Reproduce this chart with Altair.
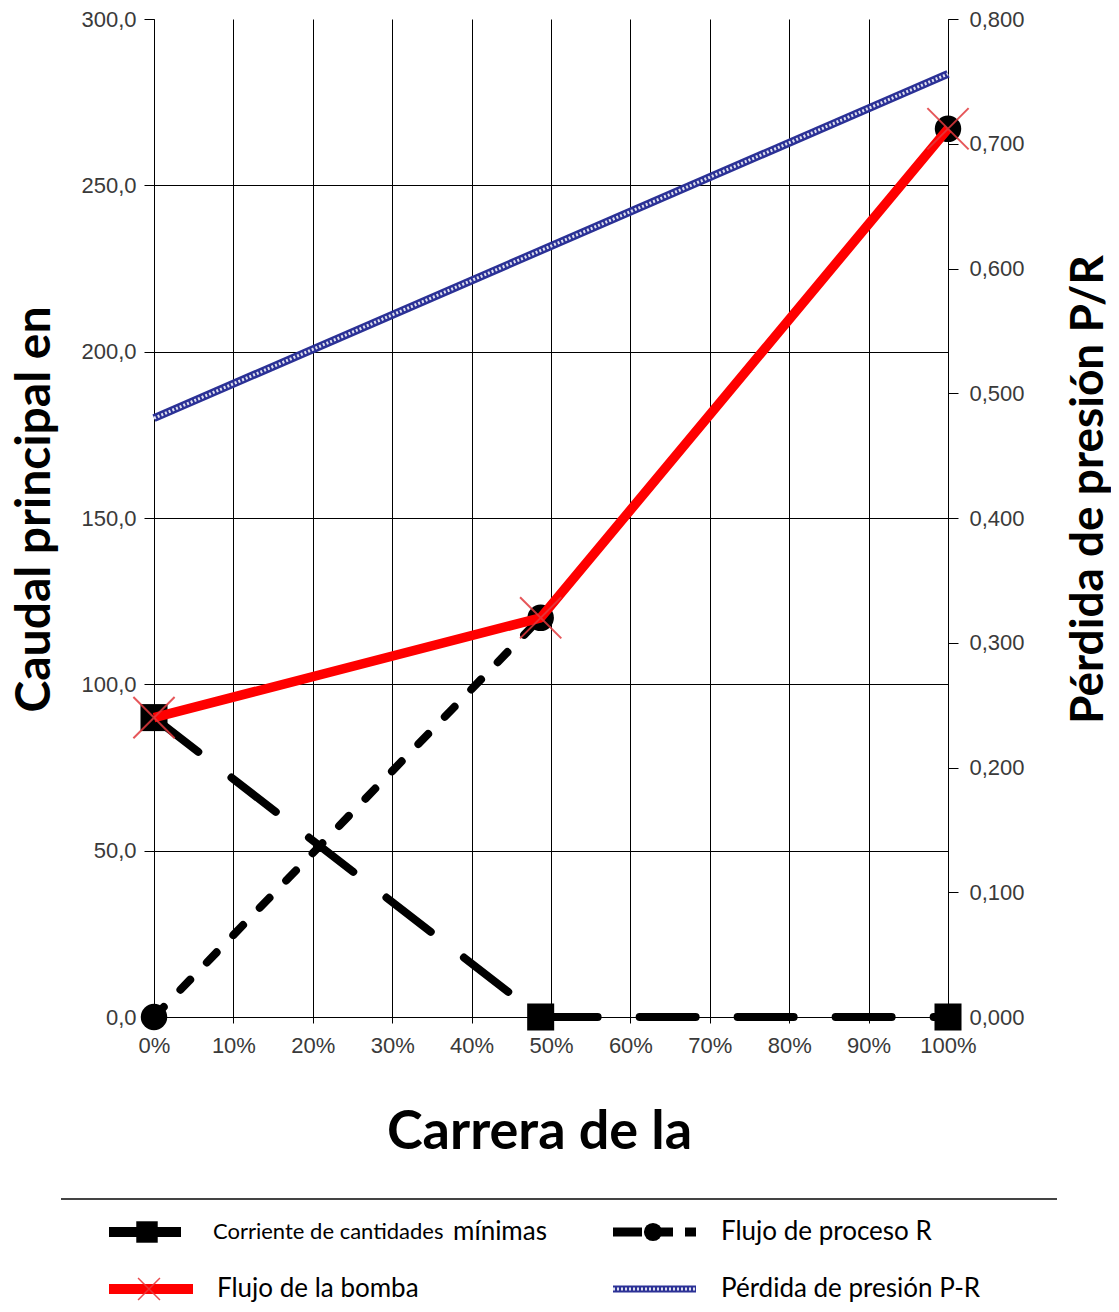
import altair as alt
import pandas as pd

# ---------------- data ----------------
carrera = [0, 48.7, 100]                 # Carrera (%)
minimas = [90.0, 0.0, 0.0]               # Corriente de cantidades mínimas
proceso = [0.0, 120.0, 267.0]            # Flujo de proceso R
bomba = [90.0, 120.0, 267.0]             # Flujo de la bomba
carrera_presion = [0, 100]
presion = [0.480, 0.756]                 # Pérdida de presión P-R (eje derecho)

x_ticks = [0, 10, 20, 30, 40, 50, 60, 70, 80, 90, 100]
y_left_ticks = [0, 50, 100, 150, 200, 250, 300]
y_right_ticks = [0.0, 0.1, 0.2, 0.3, 0.4, 0.5, 0.6, 0.7, 0.8]

series_names = ["Corriente de cantidades mínimas", "Flujo de proceso R",
                "Flujo de la bomba", "Pérdida de presión P-R"]
legend_col = [0, 1, 0, 1]
legend_row = [0, 0, 1, 1]

x_title = "Carrera de la"
y_left_title = "Caudal principal en"
y_right_title = "Pérdida de presión P/R"

# ---------------- tables ----------------
df_main = pd.DataFrame({"carrera": carrera, "minimas": minimas,
                        "proceso": proceso, "bomba": bomba})
df_p = pd.DataFrame({"carrera": carrera_presion, "presion": presion})

LABEL_FONT = "Liberation Sans"
TITLE_FONT = "Lato"
LABEL_COLOR = "#3a3a3a"

x_axis = alt.Axis(
    orient="bottom", values=x_ticks, labelExpr="datum.value + '%'",
    grid=True, gridColor="#000", gridWidth=1,
    domainColor="#000", tickColor="#000", tickSize=6,
    labelFont=LABEL_FONT, labelFontSize=22, labelColor=LABEL_COLOR,
    labelPadding=12, labelFlush=False, labelOverlap=False,
    minExtent=40, maxExtent=40,
    title=x_title, titleFont=TITLE_FONT, titleFontSize=54,
    titleFontWeight="bold", titleColor="#000", titlePadding=48, titleX=385,
)

left_axis = alt.Axis(
    orient="left", values=y_left_ticks,
    labelExpr="replace(format(datum.value, '.1f'), '.', ',')",
    grid=True, gridColor="#000", gridWidth=1,
    gridOpacity={"condition": {"test": "datum.value >= 300", "value": 0}, "value": 1},
    domainColor="#000", tickColor="#000", tickSize=10,
    labelFont=LABEL_FONT, labelFontSize=22, labelColor=LABEL_COLOR,
    labelPadding=8, labelFlush=False, labelOverlap=False,
    minExtent=73, maxExtent=73,
    title=y_left_title, titleFont=TITLE_FONT, titleFontSize=48,
    titleFontWeight="bold", titleColor="#000", titlePadding=22,
    titleY=490, titleAngle=270, titleBaseline="bottom", titleAlign="center",
)

right_axis = alt.Axis(
    orient="right", values=y_right_ticks,
    labelExpr="replace(format(datum.value, '.3f'), '.', ',')",
    grid=False, domainColor="#000", tickColor="#000", tickSize=10,
    labelFont=LABEL_FONT, labelFontSize=22, labelColor=LABEL_COLOR,
    labelPadding=11, labelFlush=False, labelOverlap=False,
    minExtent=78, maxExtent=78,
    title=y_right_title, titleFont=TITLE_FONT, titleFontSize=46,
    titleFontWeight="bold", titleColor="#000", titlePadding=40,
    titleY=470, titleAngle=270, titleBaseline="top", titleAlign="center",
)

X = alt.X("carrera:Q", scale=alt.Scale(domain=[0, 100], nice=False, zero=False), axis=x_axis)


def yl(field):
    return alt.Y(f"{field}:Q", scale=alt.Scale(domain=[0, 300], nice=False), axis=left_axis)


yr = alt.Y("presion:Q", scale=alt.Scale(domain=[0, 0.8], nice=False), axis=right_axis)

base_p = alt.Chart(df_p)
blue_base = base_p.mark_line(color="#2b3196", strokeWidth=8).encode(x=X, y=yr)
blue_tex = base_p.mark_line(color="#ffffff", strokeWidth=3, strokeDash=[2, 2],
                            opacity=0.85).encode(x=X, y=yr)
right_layer = alt.layer(blue_base, blue_tex)

base = alt.Chart(df_main)
line_min = base.mark_line(color="#000", strokeWidth=8, strokeDash=[56, 42],
                          strokeCap="round").encode(x=X, y=yl("minimas"))
line_proc = base.mark_line(color="#000", strokeWidth=8, strokeDash=[14, 24],
                           strokeCap="round").encode(x=X, y=yl("proceso"))
sq = base.mark_point(shape="square", filled=True, size=730, color="#000",
                     opacity=1).encode(x=X, y=yl("minimas"))
circ = base.mark_point(shape="circle", filled=True, size=700, color="#000",
                       opacity=1).encode(x=X, y=yl("proceso"))
line_bomba = base.mark_line(color="#ff0000", strokeWidth=9.5,
                            strokeJoin="round").encode(x=X, y=yl("bomba"))
xmark = base.mark_point(shape="M-1,-1L1,1M1,-1L-1,1", filled=False, size=1700,
                        strokeWidth=2, color="#e23a3e", opacity=0.85).encode(x=X, y=yl("bomba"))
left_layer = alt.layer(line_min, line_proc, sq, circ, line_bomba, xmark)

main = alt.layer(right_layer, left_layer).resolve_scale(y="independent").properties(
    width=794, height=998)

# ---------------- legend ----------------
# legend view origin is aligned with the plot area's left edge
first_main, first_suffix = series_names[0].rsplit(" ", 1)
leg_df = pd.DataFrame({
    "serie": series_names,
    "etiqueta": [first_main] + series_names[1:],
    "col": legend_col,
    "row": legend_row,
})
LX = alt.X("col:Q", scale=alt.Scale(domain=[0, 1], range=[-45, 459]), axis=None)
LX2 = alt.X2("col:Q")
LY = alt.Y("row:Q", scale=alt.Scale(domain=[0, 1], range=[34, 91]), axis=None)

lb = alt.Chart(leg_df)


def only(i):
    return alt.datum.serie == series_names[i]


sep = lb.mark_rule(color="#444", strokeWidth=2).encode(
    x=alt.value(-93), x2=alt.value(903), y=alt.value(1))

s0_line = lb.transform_filter(only(0)).mark_rule(color="#000", strokeWidth=10, x2Offset=72).encode(x=LX, x2=LX2, y=LY)
s0_sym = lb.transform_filter(only(0)).mark_point(shape="square", filled=True, size=460, color="#000",
                                                 opacity=1, xOffset=38).encode(x=LX, y=LY)
s1_line = lb.transform_filter(only(1)).mark_rule(color="#000", strokeWidth=9, x2Offset=83,
                                                 strokeDash=[29, 11, 20, 12, 11]).encode(x=LX, x2=LX2, y=LY)
s1_sym = lb.transform_filter(only(1)).mark_point(shape="circle", filled=True, size=330, color="#000",
                                                 opacity=1, xOffset=40).encode(x=LX, y=LY)
s2_line = lb.transform_filter(only(2)).mark_rule(color="#ff0000", strokeWidth=10, x2Offset=84).encode(x=LX, x2=LX2, y=LY)
s2_sym = lb.transform_filter(only(2)).mark_point(shape="M-1,-1L1,1M1,-1L-1,1", filled=False, size=480,
                                                 strokeWidth=1.5, color="#e8393b", opacity=0.9,
                                                 xOffset=40).encode(x=LX, y=LY)
s3_line = lb.transform_filter(only(3)).mark_rule(color="#2b3196", strokeWidth=7, x2Offset=83).encode(x=LX, x2=LX2, y=LY)
s3_tex = lb.transform_filter(only(3)).mark_rule(color="#ffffff", strokeWidth=3, x2Offset=83,
                                                strokeDash=[2, 2], opacity=0.85).encode(x=LX, x2=LX2, y=LY)

txt_small = lb.transform_filter(only(0)).mark_text(
    align="left", baseline="middle", font=TITLE_FONT, fontSize=22, color="#000", dx=104
).encode(x=LX, y=LY, text="etiqueta:N")
txt_suffix = lb.transform_filter(only(0)).mark_text(
    align="left", baseline="middle", font=TITLE_FONT, fontSize=26, color="#000", dx=344
).transform_calculate(suf=f"'{first_suffix}'").encode(x=LX, y=LY, text="suf:N")
txt_rest = lb.transform_filter(alt.datum.serie != series_names[0]).mark_text(
    align="left", baseline="middle", font=TITLE_FONT, fontSize=26, color="#000", dx=108
).encode(x=LX, y=LY, text="etiqueta:N")

legend = alt.layer(sep, s0_line, s0_sym, s1_line, s1_sym, s2_line, s2_sym, s3_line, s3_tex,
                   txt_small, txt_suffix, txt_rest).properties(width=903, height=110)

chart = alt.vconcat(main, legend, spacing=39).properties(
    padding={"left": 2, "top": 0, "right": 0, "bottom": 0},
    background="white",
).configure_view(stroke=None)

chart.save("out.html", embed_options={"renderer": "svg", "actions": False})
